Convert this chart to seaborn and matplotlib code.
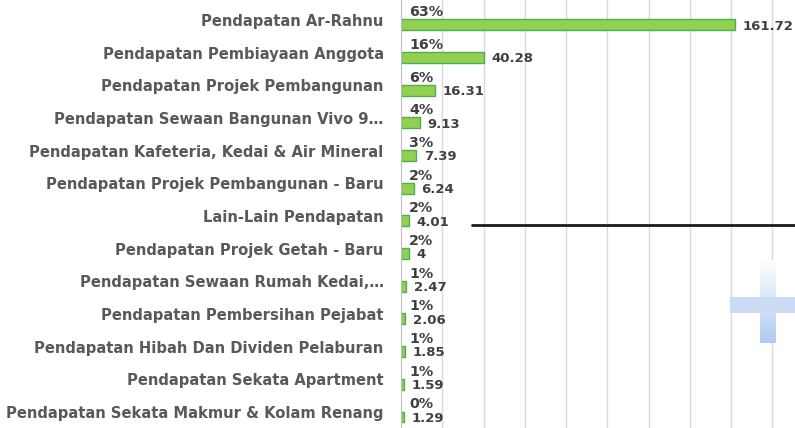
import matplotlib

matplotlib.use("Agg")
import matplotlib.pyplot as plt
import numpy as np
import pandas as pd
import seaborn as sns
from matplotlib.lines import Line2D
from matplotlib.patches import Rectangle

# данные
categories = [
    "Pendapatan Ar-Rahnu",
    "Pendapatan Pembiayaan Anggota",
    "Pendapatan Projek Pembangunan",
    "Pendapatan Sewaan Bangunan Vivo 9…",
    "Pendapatan Kafeteria, Kedai & Air Mineral",
    "Pendapatan Projek Pembangunan - Baru",
    "Lain-Lain Pendapatan",
    "Pendapatan Projek Getah - Baru",
    "Pendapatan Sewaan Rumah Kedai,…",
    "Pendapatan Pembersihan Pejabat",
    "Pendapatan Hibah Dan Dividen Pelaburan",
    "Pendapatan Sekata Apartment",
    "Pendapatan Sekata Makmur & Kolam Renang",
]
values = [161.72, 40.28, 16.31, 9.13, 7.39, 6.24, 4.01, 4, 2.47, 2.06, 1.85, 1.59, 1.29]
value_labels = ["161.72", "40.28", "16.31", "9.13", "7.39", "6.24", "4.01", "4",
                "2.47", "2.06", "1.85", "1.59", "1.29"]
pct_labels = ["63%", "16%", "6%", "4%", "3%", "2%", "2%", "2%", "1%", "1%", "1%", "1%", "0%"]

df = pd.DataFrame({"kategori": categories, "nilai": values})

sns.set_theme(style="white")
plt.rcParams["font.family"] = ["DejaVu Sans"]

fig = plt.figure(figsize=(7.95, 4.28), dpi=100)
ax = fig.add_axes([401 / 795, 0.0, 1 - 401 / 795, 1.0])

sns.barplot(data=df, y="kategori", x="nilai", orient="h", width=0.33,
            color="#92D050", edgecolor="#4CAF50", linewidth=1.0,
            saturation=1, ax=ax)

# бары в Excel чуть ниже подписи категории
shift = 0.15
for p in ax.patches:
    p.set_y(p.get_y() + shift)

ax.set_xlim(0, 191)
ax.set_ylim(12.49, -0.61)
ax.set_xticks(np.arange(20, 200, 20))
ax.xaxis.grid(True, color="#D9D9D9", linewidth=1.0)
ax.set_axisbelow(True)
ax.tick_params(axis="x", bottom=False, labelbottom=False)
ax.tick_params(axis="y", left=False, pad=6.5, labelsize=10.6, labelcolor="#595959")
for t in ax.get_yticklabels():
    t.set_fontweight("bold")
ax.set_xlabel("")
ax.set_ylabel("")
for s in ["top", "right", "bottom"]:
    ax.spines[s].set_visible(False)
ax.spines["left"].set_color("#BFBFBF")
ax.spines["left"].set_linewidth(0.8)

for i, (v, vl, pl) in enumerate(zip(values, value_labels, pct_labels)):
    yc = i + shift
    ax.annotate(vl, (v, yc), xytext=(5.5, -1), textcoords="offset points",
                ha="left", va="center", fontsize=9.5, fontweight="bold", color="#404040")
    ax.annotate(pl, (0, yc), xytext=(6, 9), textcoords="offset points",
                ha="left", va="center", fontsize=10.3, fontweight="bold", color="#404040")

# декоративные элементы слайда: чёрная линия и голубой «плюс»
fig.add_artist(Line2D([472 / 795, 1.0], [1 - 225 / 428] * 2, color="#1a1a1a", linewidth=2))
deco = fig.add_axes([730 / 795, 1 - 343 / 428, 65 / 795, 83 / 428])
deco.set_xlim(0, 65)
deco.set_ylim(0, 83)
deco.axis("off")
grad = np.linspace(0, 1, 100)[:, None]
rgba = np.ones((100, 1, 4))
rgba[..., 0] = 1 - grad * (1 - 0.68)
rgba[..., 1] = 1 - grad * (1 - 0.79)
rgba[..., 2] = 1 - grad * (1 - 0.96)
deco.imshow(rgba, extent=(30, 46, 0, 83), aspect="auto", origin="upper")
deco.add_patch(Rectangle((0, 30), 65, 16, color="#CCDCF5", lw=0))

fig.savefig("out.png", dpi=100)
